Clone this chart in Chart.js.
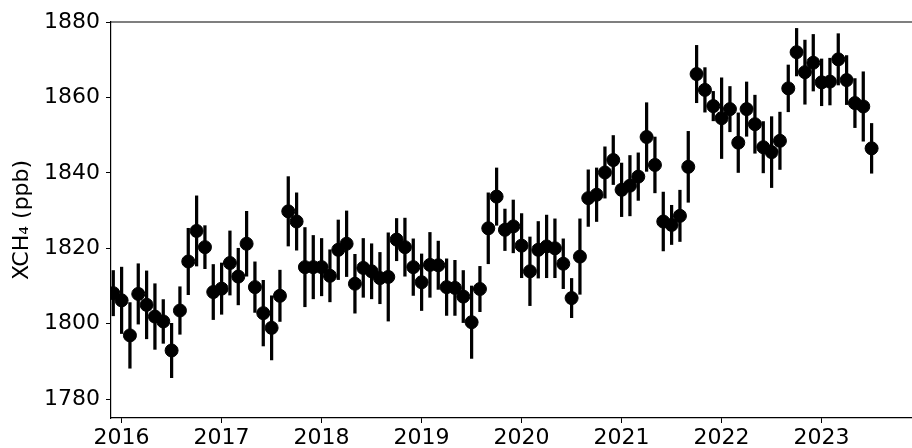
<!DOCTYPE html>
<html>
<head>
<meta charset="utf-8">
<script src="https://cdn.jsdelivr.net/npm/chart.js@4.4.1/dist/chart.umd.min.js"></script>
<style>
  html, body { margin: 0; padding: 0; background: #fff; overflow: hidden; }
</style>
</head>
<body>
<canvas id="xch4Chart" width="912" height="448"></canvas>
<script>
// monthly means, Dec 2015 .. Jul 2023
const firstYear = 2015, firstMonth = 12;
const xch4 = [
  1808.1, 1806.2, 1796.9, 1807.9, 1805.0, 1801.9, 1800.6, 1792.9, 1803.5, 1816.5, 1824.6, 1820.3,
  1808.4, 1809.3, 1816.1, 1812.5, 1821.2, 1809.7, 1802.8, 1798.9, 1807.4, 1829.8, 1827.1, 1815.0,
  1815.0, 1815.0, 1812.7, 1819.6, 1821.2, 1810.6, 1814.8, 1813.9, 1812.1, 1812.4, 1822.3, 1820.3,
  1815.0, 1811.0, 1815.6, 1815.5, 1809.7, 1809.5, 1807.2, 1800.4, 1809.2, 1825.3, 1833.7, 1824.9,
  1825.8, 1820.7, 1813.9, 1819.6, 1820.5, 1820.0, 1815.9, 1806.8, 1817.8, 1833.3, 1834.2, 1840.1,
  1843.4, 1835.5, 1836.6, 1839.0, 1849.5, 1842.1, 1827.1, 1826.2, 1828.6, 1841.6, 1866.2, 1862.0,
  1857.7, 1854.5, 1856.9, 1848.0, 1856.9, 1852.9, 1846.8, 1845.5, 1848.5, 1862.4, 1872.0, 1866.7,
  1869.2, 1864.0, 1864.2, 1870.1, 1864.6, 1858.5, 1857.6, 1846.5
];
// 1-sigma error bar half-lengths
const xch4Err = [
  6.0, 8.8, 8.7, 8.0, 9.0, 8.7, 5.8, 7.2, 6.3, 8.8, 9.3, 5.7,
  7.3, 6.8, 8.5, 7.5, 8.6, 6.7, 8.7, 8.5, 6.8, 9.2, 7.6, 10.5,
  8.4, 7.6, 6.9, 7.9, 8.7, 7.8, 7.8, 7.3, 6.8, 11.7, 5.6, 7.7,
  7.5, 7.5, 8.6, 6.4, 7.5, 7.3, 6.9, 9.6, 6.0, 9.4, 7.6, 5.5,
  7.0, 8.5, 9.1, 7.5, 8.3, 7.8, 6.6, 5.2, 10.0, 7.5, 7.1, 6.8,
  6.5, 7.1, 8.0, 6.3, 9.1, 7.4, 7.8, 5.2, 6.8, 9.4, 7.6, 5.9,
  3.9, 10.7, 6.0, 7.9, 7.2, 7.7, 6.8, 9.4, 7.6, 6.2, 6.3, 8.5,
  7.5, 6.2, 6.2, 6.8, 6.5, 6.5, 9.2, 6.6
];
const yTicks = [1780, 1800, 1820, 1840, 1860, 1880];
const xTicks = [2016, 2017, 2018, 2019, 2020, 2021, 2022, 2023];

// month index -> decimal year
const monthX = i => firstYear + (firstMonth - 1 + i) / 12;

const points = xch4.map((v, i) => ({ x: monthX(i), y: v }));
const errBars = xch4.map((v, i) => ({ x: monthX(i), y: [v - xch4Err[i], v + xch4Err[i]] }));

const fontFamily = "'DejaVu Sans', sans-serif";

// top spine only; the right one is cropped off in the original
const frame = {
  id: 'frame',
  afterDraw(chart) {
    const { ctx, chartArea: a } = chart;
    ctx.save();
    ctx.strokeStyle = '#000';
    ctx.lineWidth = 1.2;
    ctx.beginPath();
    ctx.moveTo(a.left, a.top);
    ctx.lineTo(chart.width, a.top);
    ctx.stroke();
    ctx.restore();
  }
};

const axisGrid = {
  display: true,
  offset: false,
  drawOnChartArea: false,
  drawTicks: true,
  tickLength: 5,
  color: '#000',
  lineWidth: 1
};

new Chart(document.getElementById('xch4Chart'), {
  data: {
    datasets: [
      {
        type: 'bar',
        data: errBars,
        backgroundColor: '#000',
        borderWidth: 0,
        barThickness: 2.6,
        clip: 0,
        order: 2
      },
      {
        type: 'scatter',
        data: points,
        backgroundColor: '#000',
        borderColor: '#000',
        pointRadius: 6.5,
        pointHoverRadius: 6.5,
        clip: 0,
        order: 1
      }
    ]
  },
  options: {
    responsive: false,
    animation: false,
    events: [],
    layout: { autoPadding: false, padding: { top: 22, right: 1, left: 0, bottom: 0 } },
    plugins: {
      legend: { display: false },
      tooltip: { enabled: false }
    },
    scales: {
      x: {
        type: 'linear',
        min: 2015.894,
        max: 2023.894,
        offset: false,
        afterBuildTicks: axis => { axis.ticks = xTicks.map(v => ({ value: v })); },
        afterFit: axis => {
          axis.height = 30;
          axis.paddingLeft = 0;
          axis.paddingRight = 0;
        },
        grid: axisGrid,
        border: { display: true, color: '#000', width: 1.2 },
        ticks: {
          color: '#000',
          padding: 2,
          maxRotation: 0,
          autoSkip: false,
          font: { family: fontFamily, size: 22 },
          callback: v => String(v)
        }
      },
      y: {
        type: 'linear',
        min: 1775,
        max: 1880,
        afterBuildTicks: axis => { axis.ticks = yTicks.map(v => ({ value: v })); },
        afterFit: axis => {
          axis.width = 111;
          axis.paddingTop = 0;
          axis.paddingBottom = 0;
        },
        grid: axisGrid,
        border: { display: true, color: '#000', width: 1.2 },
        title: {
          display: true,
          text: 'XCH\u2084 (ppb)',
          color: '#000',
          font: { family: fontFamily, size: 22 },
          padding: { top: 9, bottom: 0 }
        },
        ticks: {
          color: '#000',
          padding: 6,
          font: { family: fontFamily, size: 22 },
          callback: v => String(v)
        }
      }
    }
  },
  plugins: [frame]
});
</script>
</body>
</html>
